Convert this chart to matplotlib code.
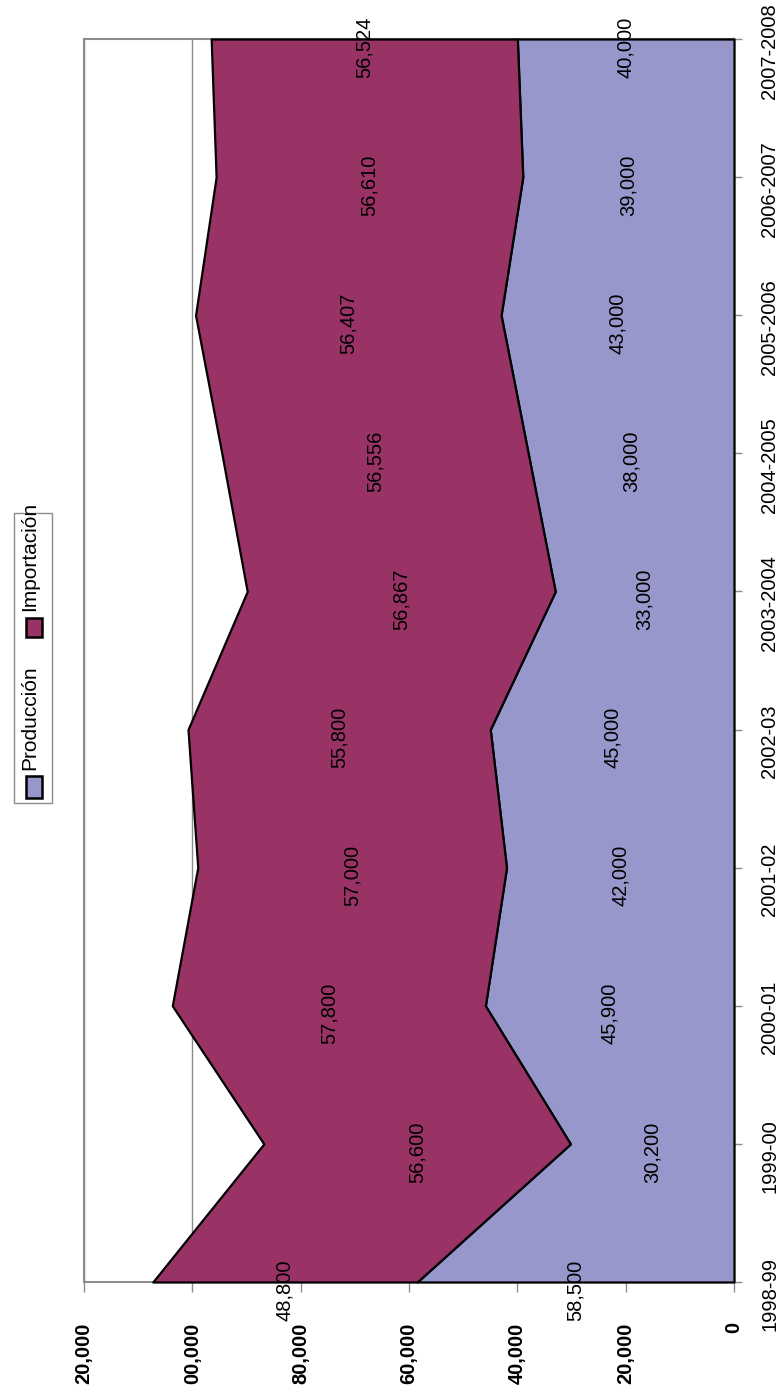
import numpy as np
import matplotlib
matplotlib.use("Agg")
import matplotlib.pyplot as plt
from matplotlib.patches import Rectangle
from matplotlib.transforms import ScaledTranslation

plt.rcParams["font.family"] = ["Liberation Sans", "DejaVu Sans"]

categories = ["1998-99", "1999-00", "2000-01", "2001-02", "2002-03",
              "2003-2004", "2004-2005", "2005-2006", "2006-2007", "2007-2008"]
produccion = [58500, 30200, 45900, 42000, 45000, 33000, 38000, 43000, 39000, 40000]
importacion = [48800, 56600, 57800, 57000, 55800, 56867, 56556, 56407, 56610, 56524]
value_ticks = [0, 20000, 40000, 60000, 80000, 100000, 120000]
value_labels = ["0", "20,000", "40,000", "60,000", "80,000", "00,000", "20,000"]

W, H = 783, 1396
PROD_COLOR = "#9797cb"
IMP_COLOR = "#993366"
GRAY = "#8c8c8c"


def fx(px):
    return px / W


def fy(py):
    return 1 - py / H


fig = plt.figure(figsize=(W / 100, H / 100), dpi=100)
ax = fig.add_axes([fx(84), fy(1282), fx(734) - fx(84), fy(39) - fy(1282)])

y = np.arange(len(categories))
prod = np.array(produccion)
total = prod + np.array(importacion)

ax.fill_betweenx(y, 0, prod, facecolor=PROD_COLOR, edgecolor="black",
                 linewidth=1.6, zorder=3, clip_on=False)
ax.fill_betweenx(y, prod, total, facecolor=IMP_COLOR, edgecolor="black",
                 linewidth=1.6, zorder=3, clip_on=False)

ax.set_xlim(120000, 0)
ax.set_ylim(0, len(categories) - 1)

ax.set_xticks(value_ticks)
ax.set_xticklabels(value_labels, rotation=90, fontsize=14.5, fontweight="bold")
ax.tick_params(axis="x", direction="out", length=7, width=1, color=GRAY, pad=22)
ax.grid(axis="x", color=GRAY, linewidth=1, zorder=1)

ax.yaxis.tick_right()
ax.set_yticks(y)
ax.set_yticklabels(categories, rotation=90, fontsize=14.5, va="center")
ax.tick_params(axis="y", direction="out", length=6, width=1, color=GRAY, pad=13)
shift = ScaledTranslation(0, -0.12, fig.dpi_scale_trans)
for lab in ax.get_yticklabels():
    lab.set_transform(lab.get_transform() + shift)

for side in ["left", "top", "bottom"]:
    ax.spines[side].set_color(GRAY)
    ax.spines[side].set_linewidth(1.5)
ax.spines["right"].set_color("black")
ax.spines["right"].set_linewidth(1.6)

# etiquetas de datos en el centro de cada banda
lab_tr = ax.transData + ScaledTranslation(0, -0.08, fig.dpi_scale_trans)
for i in range(len(categories)):
    ax.text(prod[i] / 2, i, f"{produccion[i]:,}", rotation=90, transform=lab_tr,
            ha="center", va="center", fontsize=14.5, zorder=5, clip_on=False)
    ax.text(prod[i] + importacion[i] / 2, i, f"{importacion[i]:,}", rotation=90,
            transform=lab_tr, ha="center", va="center", fontsize=14.5,
            zorder=5, clip_on=False)

# leyenda girada
fig.patches.append(Rectangle((fx(14), fy(803)), fx(52) - fx(14), fy(513) - fy(803),
                             transform=fig.transFigure, facecolor="white",
                             edgecolor=GRAY, linewidth=1))
fig.patches.append(Rectangle((fx(26), fy(798)), fx(42) - fx(26), fy(776) - fy(798),
                             transform=fig.transFigure, facecolor=PROD_COLOR,
                             edgecolor="black", linewidth=1.8))
fig.patches.append(Rectangle((fx(26), fy(637)), fx(42) - fx(26), fy(618) - fy(637),
                             transform=fig.transFigure, facecolor=IMP_COLOR,
                             edgecolor="black", linewidth=1.8))
fig.text(fx(30), fy(770), "Producción", rotation=90, ha="center", va="bottom",
         fontsize=15)
fig.text(fx(30), fy(611), "Importación", rotation=90, ha="center", va="bottom",
         fontsize=15)

fig.savefig("out.png", dpi=100)
